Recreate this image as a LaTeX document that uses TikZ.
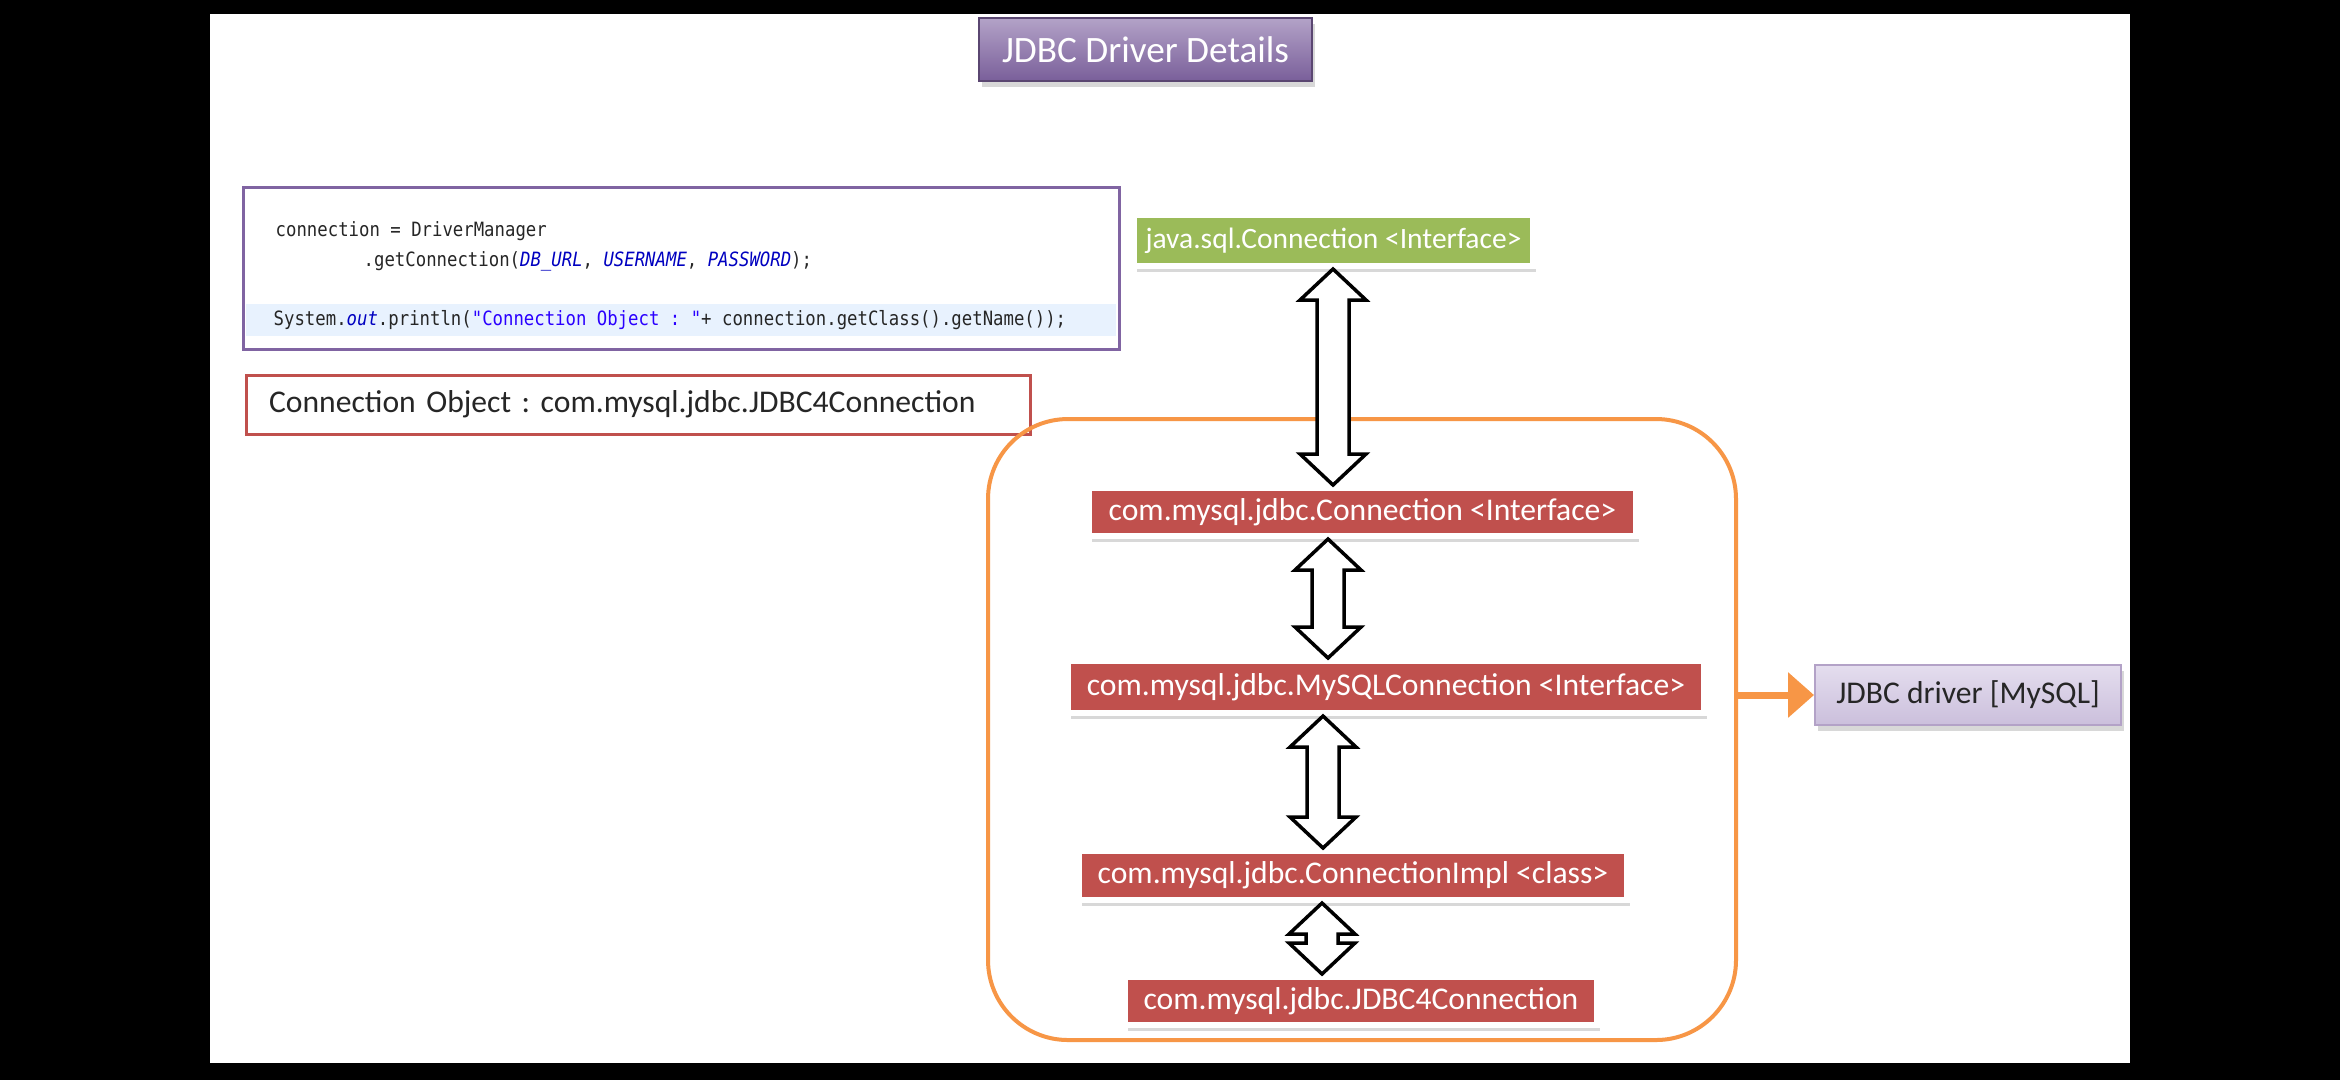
\documentclass[tikz,border=0pt]{standalone}
\usepackage{fontspec}
\setmainfont{Carlito}
\newfontfamily\codefont[FakeStretch=0.88,Ligatures=TeXOff]{DejaVu Sans Mono}
\usetikzlibrary{arrows.meta,positioning,shadows,calc}
\definecolor{mypurple}{HTML}{8064A2}
\definecolor{mygreen}{HTML}{9BBB59}
\definecolor{myred}{HTML}{C0504D}
\definecolor{myorange}{HTML}{F79646}
\definecolor{mylav}{HTML}{E4DDEE}
\definecolor{mylavdark}{HTML}{CBBFDC}
\definecolor{codeblue}{HTML}{0000C0}
\definecolor{codestr}{HTML}{2A00FF}
\definecolor{codeline}{HTML}{E8F2FE}
\tikzset{
  box/.style={rectangle, align=center, inner sep=0pt, font=\fontsize{9}{11}\selectfont},
  shade/.style={drop shadow={shadow xshift=0.3mm, shadow yshift=-0.6mm, opacity=0.3}},
  titlebox/.style={box, shade, top color=mypurple!60!white, bottom color=mypurple!95!black,
                   draw=mypurple!70!black, text=white, font=\fontsize{10.6}{12}\selectfont},
  codebox/.style={box, draw=mypurple, line width=0.3mm, fill=white},
  codetxt/.style={anchor=west, inner sep=0pt, text=black!85,
                  font=\codefont\fontsize{5.6}{7}\selectfont},
  outbox/.style={box, draw=myred, line width=0.3mm, fill=white, align=left, text=black!85},
  greenbox/.style={box, shade, fill=mygreen, draw=white, line width=0.6mm, text=white,
                   font=\fontsize{8.4}{10}\selectfont},
  redbox/.style={box, shade, fill=myred, draw=white, line width=0.6mm, text=white},
  drvbox/.style={box, draw=myorange, line width=0.4mm, rounded corners=8mm},
  lavbox/.style={box, shade, top color=mylav, bottom color=mylavdark, draw=mypurple!60,
                 line width=0.2mm, text=black!85},
  arr/.style={-{Triangle[length=2.6mm, width=4.4mm]}, myorange, line width=0.7mm},
  blockarr/.style={draw=black, fill=white, line width=0.35mm, line join=miter},
}
% hollow two-headed block arrow: x position, upper node, lower node
\newcommand{\biarrow}[3]{%
  \draw[blockarr] let \p1=(#2.south), \p2=(#3.north), \p3=(#1,0) in
    (\x3,\y1) -- (\x3+3.3mm,\y1-3.1mm) -- (\x3+1.6mm,\y1-3.1mm) -- (\x3+1.6mm,\y2+3.1mm)
    -- (\x3+3.3mm,\y2+3.1mm) -- (\x3,\y2) -- (\x3-3.3mm,\y2+3.1mm) -- (\x3-1.6mm,\y2+3.1mm)
    -- (\x3-1.6mm,\y1-3.1mm) -- (\x3-3.3mm,\y1-3.1mm) -- cycle;}
\frenchspacing

\begin{document}
\begin{tikzpicture}[x=0.1mm, y=-0.1mm]
    \useasboundingbox (0,0) rectangle (2340,1080);
    \fill[black] (0,0) rectangle (2340,1080);
    \fill[white] (210,14) rectangle (2130,1063);
    \node[titlebox, minimum width=33.3mm, minimum height=6.3mm] (title) at (1145.5,49.5) {JDBC Driver Details};
    % code snippet
    \node[codebox, minimum width=87.6mm, minimum height=16.2mm] (code) at (681,268) {};
    \fill[codeline] (246,304) rectangle (1116,336);
    \node[codetxt] (lineA) at (275,231) {connection = DriverManager};
    \node[codetxt] (lineB) at (363,261) {.getConnection({\itshape\color{codeblue}DB\_URL}, {\itshape\color{codeblue}USERNAME}, {\itshape\color{codeblue}PASSWORD});};
    \node[codetxt] (lineC) at (273,320) {System.{\itshape\color{codeblue}out}.println({\color{codestr}"Connection Object : "}+ connection.getClass().getName());};
    \node[outbox, minimum width=78.4mm, minimum height=5.9mm, text width=73.8mm] (out) at (638,404.5) {Connection Object : com.mysql.jdbc.JDBC4Connection};
    % driver hierarchy
    \node[drvbox, minimum width=74.8mm, minimum height=62.1mm] (drv) at (1362,729.5) {};
    \node[greenbox, minimum width=39.9mm, minimum height=5.1mm] (jsql) at (1333.5,240.5) {java.sql.Connection <Interface>};
    \node[redbox, minimum width=54.7mm, minimum height=4.8mm] (mconn) at (1362.5,512) {com.mysql.jdbc.Connection <Interface>};
    \node[redbox, minimum width=63.6mm, minimum height=5.2mm] (myconn) at (1386,687) {com.mysql.jdbc.MySQLConnection <Interface>};
    \node[redbox, minimum width=54.8mm, minimum height=4.9mm] (impl) at (1353,875.5) {com.mysql.jdbc.ConnectionImpl <class>};
    \node[redbox, minimum width=47.2mm, minimum height=4.8mm] (jdbc4) at (1361,1001) {com.mysql.jdbc.JDBC4Connection};
    \node[lavbox, minimum width=30.6mm, minimum height=6.0mm] (mysql) at (1968,695) {JDBC driver [MySQL]};
    \biarrow{1333}{jsql}{mconn}
    \biarrow{1328}{mconn}{myconn}
    \biarrow{1323}{myconn}{impl}
    \biarrow{1322}{impl}{jdbc4}
    \draw[arr] (drv.east|-mysql.west) -- (mysql.west);
\end{tikzpicture}
\end{document}
